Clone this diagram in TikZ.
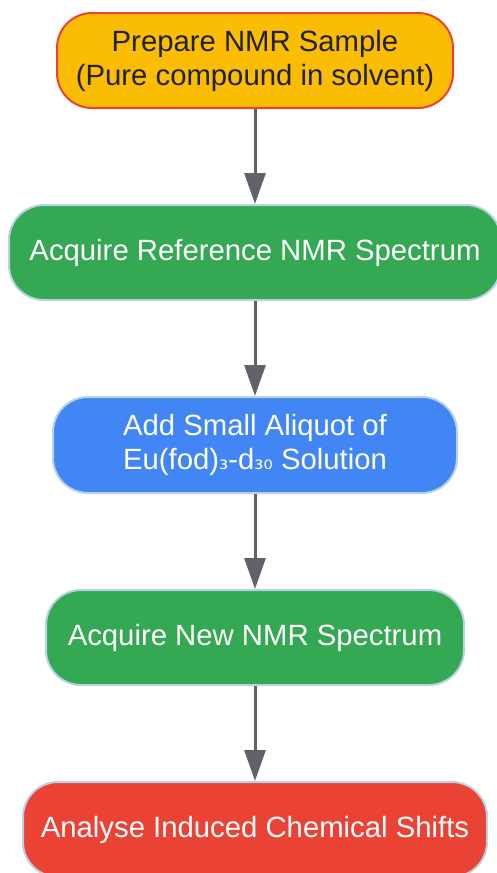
\documentclass[tikz,border=0pt]{standalone}
\usepackage{fontspec}
\setmainfont{Liberation Sans}
\newfontfamily\subfont{DejaVu Sans}
\usetikzlibrary{arrows.meta}
\definecolor{nmryellow}{HTML}{FBBC04}
\definecolor{nmrgreen}{HTML}{34A853}
\definecolor{nmrblue}{HTML}{4285F4}
\definecolor{nmrred}{HTML}{EA4335}
\definecolor{nmredge}{HTML}{B9D3E4}
\definecolor{nmrgrey}{HTML}{5F6368}
\definecolor{nmrtext}{HTML}{202124}
\tikzset{>={Triangle[length=31pt,width=21pt]}}
\tikzstyle{stage}=[rounded corners=35pt,line width=2pt,draw=nmredge,text=white,
  minimum height=95pt,align=center,font=\fontsize{29.3}{34}\selectfont]
\tikzstyle{flow}=[->,line width=3pt,draw=nmrgrey,fill=nmrgrey]

\begin{document}
\begin{tikzpicture}[x=1pt,y=-1pt]
            \useasboundingbox (0,0) rectangle (497,873);
            \def\mid{255}
            \node[stage, fill=nmryellow, draw=nmrred, text=nmrtext, minimum width=396pt]
              (prep) at (\mid,60.5) {Prepare NMR Sample\\(Pure compound in solvent)};
            \node[stage, fill=nmrgreen, minimum width=492pt]
              (ref) at (\mid,252.5) {Acquire Reference NMR Spectrum};
            \node[stage, fill=nmrblue, minimum width=404pt, minimum height=96pt]
              (add) at (\mid,445) {Add Small Aliquot of\\Eu(fod){\subfont\fontsize{23}{24}\selectfont ₃}-d{\subfont\fontsize{23}{24}\selectfont ₃₀} Solution};
            \node[stage, fill=nmrgreen, minimum width=418pt]
              (new) at (\mid,637.5) {Acquire New NMR Spectrum};
            \node[stage, fill=nmrred, minimum width=464pt]
              (ana) at (\mid,829.5) {Analyse Induced Chemical Shifts};
            \draw[flow] (prep)--(ref);
            \draw[flow] (ref)--(add);
            \draw[flow] (add)--(new);
            \draw[flow] (new)--(ana);
        \end{tikzpicture}
\end{document}
